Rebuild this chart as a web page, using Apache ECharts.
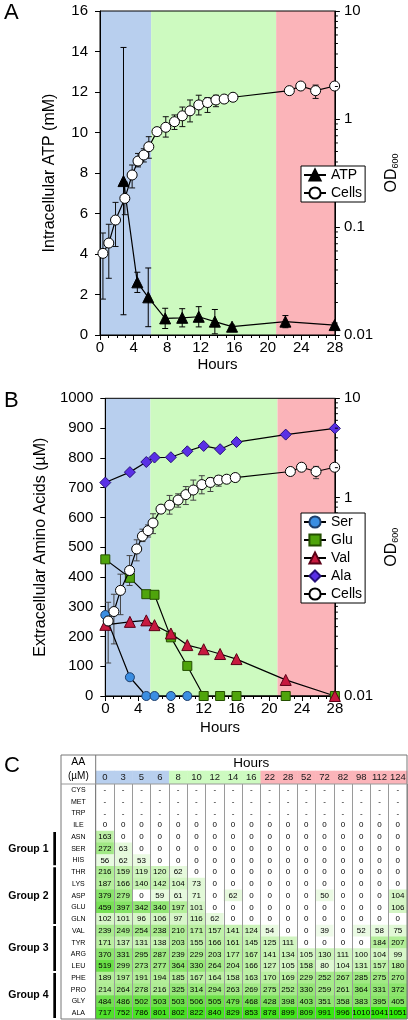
<!DOCTYPE html>
<html><head><meta charset="utf-8">
<script src="https://cdn.jsdelivr.net/npm/echarts@6/dist/echarts.min.js"></script>
<style>html,body{margin:0;padding:0;background:#fff}#c{width:408px;height:1020px}</style>
</head><body><div id="c"></div>
<script>
// ---------- Panel A data ----------
const atpHours = [2.8, 4.45, 5.75, 7.77, 9.8, 11.77, 13.69, 15.74, 22.1, 27.97];
const atpMM    = [7.6, 2.6, 1.86, 0.82, 0.85, 0.9, 0.66, 0.41, 0.66, 0.49];
const atpErr   = [6.6, 0.5, 1.45, 0.5, 0.45, 0.5, 0.6, 0.08, 0.3, 0.1];
const cellHours = [0.35,1.05,1.85,2.96,3.83,4.53,5.22,5.82,6.79,7.84,8.88,9.82,10.73,11.77,12.82,13.82,14.8,15.85,22.57,23.93,25.7,27.97];
const cellOD    = [0.057,0.071,0.116,0.184,0.303,0.408,0.464,0.554,0.764,0.838,0.944,1.07,1.19,1.35,1.42,1.50,1.53,1.59,1.83,2.02,1.83,2.02];
const cellODLow = [0.0215,0.0335,0.066,0.13,0.23,0.36,0.40,0.433,0.70,0.68,0.80,0.85,0.94,1.09,1.15,1.30,1.42,1.52,1.78,1.97,1.55,1.97];
const cellODHigh= [0.088,0.106,0.169,0.26,0.375,0.48,0.53,0.686,0.83,1.05,1.09,1.29,1.50,1.66,1.58,1.66,1.62,1.65,1.90,2.06,2.06,2.06];
// ---------- Panel B data ----------
const aaHours = [0,3,5,6,8,10,12,14,16,22,28];
const serUM = [272,63,0,0,0,0];
const gluUM = [459,397,342,340,197,101,0,0,0,0,0];
const valUM = [239,249,254,238,210,171,157,141,124,54,0];
const alaUM = [717,752,786,801,802,822,840,829,853,878,899];
// growth phases (hours)
const phasesA = [[0,6.1,0],[6.1,21,1],[21,28,2]];
const phasesB = [[0,5.5,0],[5.5,21,1],[21,28,2]];
const odMinorTicks = [0.02,0.03,0.04,0.05,0.06,0.07,0.08,0.09,0.2,0.3,0.4,0.5,0.6,0.7,0.8,0.9,2,3,4,5,6,7,8,9];
// ---------- Panel C table ----------
const tableHours = ['0','3','5','6','8','10','12','14','16','22','28','52','72','82','98','112','124'];
const tablePhase = [0,0,0,0,1,1,1,1,1,2,2,2,2,2,2,2,2];
const tableRows = ['CYS','MET','TRP','ILE','ASN','SER','HIS','THR','LYS','ASP','GLU','GLN','VAL','TYR','ARG','LEU','PHE','PRO','GLY','ALA'];
const D = '-';
const tableValues = [
 [D,D,D,D,D,D,D,D,D,D,D,D,D,D,D,D,D],
 [D,D,D,D,D,D,D,D,D,D,D,D,D,D,D,D,D],
 [D,D,D,D,D,D,D,D,D,D,D,D,D,D,D,D,D],
 [0,0,0,0,0,0,0,0,0,0,0,0,0,0,0,0,0],
 [163,0,0,0,0,0,0,0,0,0,0,0,0,0,0,0,0],
 [272,63,0,0,0,0,0,0,0,0,0,0,0,0,0,0,0],
 [56,62,53,0,0,0,0,0,0,0,0,0,0,0,0,0,0],
 [216,159,119,120,62,0,0,0,0,0,0,0,0,0,0,0,0],
 [187,166,140,142,104,73,0,0,0,0,0,0,0,0,0,0,0],
 [379,279,0,59,61,71,0,62,0,0,0,0,50,0,0,0,104],
 [459,397,342,340,197,101,0,0,0,0,0,0,0,0,0,0,106],
 [102,101,96,106,97,116,62,0,0,0,0,0,0,0,0,0,0],
 [239,249,254,238,210,171,157,141,124,54,0,0,39,0,52,58,75],
 [171,137,131,138,203,155,166,161,145,125,111,0,0,0,0,184,207],
 [370,331,295,287,239,229,203,177,167,141,134,105,130,111,100,104,99],
 [519,299,273,277,364,330,264,204,166,127,105,158,80,104,131,157,180],
 [189,197,191,194,185,167,164,158,163,170,169,229,252,267,285,275,270],
 [214,264,278,216,325,314,294,263,269,275,252,330,259,261,364,331,372],
 [484,486,502,503,503,506,505,479,468,428,398,403,351,358,383,395,405],
 [717,752,786,801,802,822,840,829,853,878,899,809,991,996,1010,1041,1051]
];
const groups = [['Group 1','ASN','HIS'],['Group 2','THR','GLN'],['Group 3','VAL','LEU'],['Group 4','PHE','ALA']];

// ---------- styling / layout ----------
const FONT = 'Liberation Sans, Arial, Helvetica, sans-serif';
const phaseColors = ['#b8cfee','#cdfac0','#fbb4b9'];
const gA = {left:100, top:11, width:268, height:324};
const gB = {left:105.3, top:398.3, width:260.4, height:297.7};
const T = {left:61, top:755, right:407, bottom:1019, aaRight:95.7, hoursBottom:770.7, headBottom:784};

const chart = echarts.init(document.getElementById('c'));

function hoursAxis(gi, gap){
  return {type:'value', gridIndex:gi, min:0, max:28, interval:4,
    axisLine:{lineStyle:{color:'#000',width:1}},
    axisTick:{length:5, lineStyle:{color:'#000'}},
    minorTick:{show:true, splitNumber:4, length:3, lineStyle:{color:'#000'}},
    splitLine:{show:false},
    axisLabel:{color:'#000', fontSize:15, fontFamily:FONT, margin:5},
    name:'Hours', nameLocation:'middle', nameGap:gap,
    nameTextStyle:{color:'#000', fontSize:15, fontFamily:FONT}};
}
function odAxis(gi){
  return {type:'log', logBase:10, gridIndex:gi, position:'right', min:0.01, max:10,
    axisLine:{show:true, onZero:false, lineStyle:{color:'#000'}},
    axisTick:{show:true, length:5, lineStyle:{color:'#000'}},
    splitLine:{show:false},
    axisLabel:{color:'#000', fontSize:15, fontFamily:FONT, margin:9, formatter:v=>String(+(+v).toPrecision(2))},
    name:'{a|OD}{b|600}', nameLocation:'middle', nameRotate:90, nameGap:22,
    nameTextStyle:{rich:{a:{fontSize:16,fontFamily:FONT,color:'#000'},b:{fontSize:9,fontFamily:FONT,color:'#000',verticalAlign:'bottom',padding:[7,0,0,0]}}}};
}
function leftAxis(gi, max, interval, name, gap){
  return {type:'value', gridIndex:gi, min:0, max:max, interval:interval,
    axisLine:{show:true, onZero:false, lineStyle:{color:'#000'}},
    axisTick:{show:true, length:5, lineStyle:{color:'#000'}},
    splitLine:{show:false},
    axisLabel:{color:'#000', fontSize:15, fontFamily:FONT, margin:12, formatter:v=>String(v)},
    name:name, nameLocation:'middle', nameGap:gap,
    nameTextStyle:{color:'#000', fontSize:16, fontFamily:FONT}};
}

function phaseSeries(xi, yi, phases, yMax){
  return {type:'custom', xAxisIndex:xi, yAxisIndex:yi, z:-1, silent:true,
    data:phases,
    renderItem:(p, api)=>{
      const a = api.coord([api.value(0), yMax]);
      const b = api.coord([api.value(1), 0]);
      return {type:'rect', shape:{x:a[0], y:a[1], width:b[0]-a[0], height:b[1]-a[1]},
        style:{fill:phaseColors[api.value(2)]}};
    }};
}
function errSeries(xi, yi, data, color){
  return {type:'custom', xAxisIndex:xi, yAxisIndex:yi, z:2, silent:true,
    encode:{x:0, y:[1,2]}, data:data,
    renderItem:(p, api)=>{
      const x = api.value(0);
      const p1 = api.coord([x, api.value(1)]), p2 = api.coord([x, api.value(2)]);
      const w = 3, st = {stroke:color, lineWidth:1};
      return {type:'group', children:[
        {type:'line', shape:{x1:p1[0],y1:p1[1],x2:p2[0],y2:p2[1]}, style:st},
        {type:'line', shape:{x1:p1[0]-w,y1:p1[1],x2:p1[0]+w,y2:p1[1]}, style:st},
        {type:'line', shape:{x1:p2[0]-w,y1:p2[1],x2:p2[0]+w,y2:p2[1]}, style:st}]};
    }};
}
function minorTickSeries(xi, yi){
  return {type:'custom', xAxisIndex:xi, yAxisIndex:yi, z:5, silent:true,
    data: odMinorTicks.map(v=>[28, v]),
    renderItem:(p, api)=>{
      const c = api.coord([api.value(0), api.value(1)]);
      return {type:'line', shape:{x1:c[0], y1:c[1], x2:c[0]+3, y2:c[1]}, style:{stroke:'#000', lineWidth:1}};
    }};
}
function lineSeries(name, xi, yi, xs, ys, symbol, size, fill, border, z){
  return {type:'line', name:name, xAxisIndex:xi, yAxisIndex:yi, z:z,
    data: ys.map((v,i)=>[xs[i], v]),
    symbol:symbol, symbolSize:size, showSymbol:true,
    lineStyle:{color:'#000', width:1.2},
    itemStyle:{color:fill, borderColor:border, borderWidth:1, opacity:1},
    emphasis:{disabled:true}, animation:false};
}

// table data
const heatData = [], dashData = [];
tableValues.forEach((row, r)=>row.forEach((v, c)=>{
  if (v === D) dashData.push([c, r]); else heatData.push([c, r, v]);
}));

const series = [
  phaseSeries(0, 0, phasesA, 16),
  errSeries(0, 0, atpHours.map((h,i)=>[h, Math.max(0, atpMM[i]-atpErr[i]), atpMM[i]+atpErr[i]]), '#000'),
  lineSeries('ATP', 0, 0, atpHours, atpMM, 'triangle', 11, '#000', '#000', 3),
  errSeries(0, 1, cellHours.map((h,i)=>[h, cellODLow[i], cellODHigh[i]]), '#111'),
  lineSeries('Cells', 0, 1, cellHours, cellOD, 'circle', 10, '#fff', '#000', 4),
  minorTickSeries(0, 1),

  phaseSeries(1, 2, phasesB, 1000),
  lineSeries('Ser', 1, 2, aaHours, serUM, 'circle', 9, '#3b8ee2', '#1d3d6a', 3),
  lineSeries('Glu', 1, 2, aaHours, gluUM, 'rect', 9, '#4fa40c', '#244f00', 3),
  lineSeries('Val', 1, 2, aaHours, valUM, 'triangle', 11, '#c7193f', '#5a0016', 3),
  lineSeries('Ala', 1, 2, aaHours, alaUM, 'diamond', 11, '#5a30e6', '#26107a', 3),
  errSeries(1, 3, cellHours.map((h,i)=>[h, cellODLow[i], cellODHigh[i]]), '#444'),
  lineSeries('Cells', 1, 3, cellHours, cellOD, 'circle', 10, '#fff', '#000', 4),
  minorTickSeries(1, 3),

  {type:'custom', xAxisIndex:2, yAxisIndex:4, silent:true,
    data: tableHours.map((h,i)=>[i, 0, tablePhase[i]]),
    renderItem:(p, api)=>{
      const c = api.coord([api.value(0), 0]); const s = api.size([1, 1]);
      return {type:'group', children:[
        {type:'rect', shape:{x:c[0]-s[0]/2, y:c[1]-s[1]/2, width:s[0]+0.5, height:s[1]}, style:{fill:phaseColors[api.value(2)]}},
        {type:'text', x:c[0], y:c[1]+0.5, style:{text:tableHours[p.dataIndex], fill:'#1a1a1a', font:'9.5px '+FONT, align:'center', verticalAlign:'middle'}}]};
    }},
  {type:'heatmap', xAxisIndex:3, yAxisIndex:5, z:-1, data:heatData,
    label:{show:true, fontSize:8, fontFamily:FONT, color:'#000', formatter:p=>String(p.value[2])},
    itemStyle:{borderWidth:0}, emphasis:{disabled:true}},
  {type:'custom', xAxisIndex:3, yAxisIndex:5, silent:true, data:dashData,
    renderItem:(p, api)=>{
      const c = api.coord([api.value(0), api.value(1)]);
      return {type:'text', x:c[0], y:c[1], style:{text:'-', fill:'#000', font:'8px '+FONT, align:'center', verticalAlign:'middle'}};
    }}
];
const heatIndex = series.findIndex(s=>s.type==='heatmap');

const legendBase = {orient:'vertical', backgroundColor:'#fff', borderColor:'#000', borderWidth:1,
  itemWidth:22, itemHeight:14, itemGap:4, padding:[2,3,2,2], z:20,
  textStyle:{color:'#000', fontSize:14, fontFamily:FONT}, selectedMode:false};

const option = {
  animation:false,
  textStyle:{fontFamily:FONT},
  grid:[
    Object.assign({show:true, borderColor:'#000', borderWidth:1}, gA),
    Object.assign({show:true, borderColor:'#000', borderWidth:1}, gB),
    {left:T.aaRight, top:T.hoursBottom, width:T.right-T.aaRight, height:T.headBottom-T.hoursBottom},
    {left:T.aaRight, top:T.headBottom, width:T.right-T.aaRight, height:T.bottom-T.headBottom}
  ],
  xAxis:[
    hoursAxis(0, 22), hoursAxis(1, 24),
    {type:'category', gridIndex:2, data:tableHours, show:false},
    {type:'category', gridIndex:3, data:tableHours, axisLine:{show:false}, axisTick:{show:false},
      axisLabel:{show:false, interval:0}, splitLine:{show:true, interval:0, lineStyle:{color:'#9a9a9a', width:1}}}
  ],
  yAxis:[
    leftAxis(0, 16, 2, 'Intracellular ATP (mM)', 42),
    odAxis(0),
    leftAxis(1, 1000, 100, 'Extracellular Amino Acids (µM)', 43),
    odAxis(1),
    {type:'category', gridIndex:2, data:['h'], show:false},
    {type:'category', gridIndex:3, data:tableRows, inverse:true, axisLine:{show:false}, axisTick:{show:false},
      axisLabel:{interval:0, fontSize:7, fontFamily:FONT, color:'#000', align:'center', margin:17.3}, splitLine:{show:false}}
  ],
  visualMap:{type:'continuous', show:false, seriesIndex:heatIndex, min:0, max:1051, dimension:2,
    inRange:{color:['#ffffff','#b8ef9f','#90e572','#68df44','#50e02c','#42e41c','#30ea08']}},
  legend:[
    Object.assign({}, legendBase, {left:301, top:166, data:['ATP','Cells']}),
    Object.assign({}, legendBase, {left:301, top:513, data:['Ser','Glu','Val','Ala','Cells']})
  ],
  series: series
};
chart.setOption(option);

// annotations of the table and panel letters
const rowPix = name => chart.convertToPixel({yAxisIndex:5}, name);
const rowH = (T.bottom - T.headBottom) / tableRows.length;
const gfx = [
  {type:'text', x:4, y:2, style:{text:'A', font:'22px '+FONT, fill:'#000'}},
  {type:'text', x:4, y:390, style:{text:'B', font:'22px '+FONT, fill:'#000'}},
  {type:'text', x:4, y:755, style:{text:'C', font:'22px '+FONT, fill:'#000'}},
  {type:'rect', shape:{x:T.left, y:T.top, width:T.right-T.left, height:T.bottom-T.top}, style:{fill:null, stroke:'#777', lineWidth:1}, z:10},
  {type:'line', shape:{x1:T.aaRight, y1:T.top, x2:T.aaRight, y2:T.bottom}, style:{stroke:'#777', lineWidth:1}, z:10},
  {type:'line', shape:{x1:T.left, y1:T.headBottom, x2:T.right, y2:T.headBottom}, style:{stroke:'#999', lineWidth:1}, z:10},
  {type:'text', x:(T.aaRight+T.right)/2, y:763, style:{text:'Hours', font:'13.5px '+FONT, fill:'#000', align:'center', verticalAlign:'middle'}},
  {type:'text', x:(T.left+T.aaRight)/2, y:762, style:{text:'AA', font:'10.5px '+FONT, fill:'#000', align:'center', verticalAlign:'middle'}},
  {type:'text', x:(T.left+T.aaRight)/2, y:776.5, style:{text:'(µM)', font:'10px '+FONT, fill:'#000', align:'center', verticalAlign:'middle'}}
];
groups.forEach(g=>{
  const y1 = rowPix(g[1]) - rowH/2 + 1, y2 = rowPix(g[2]) + rowH/2 - 1;
  gfx.push({type:'rect', shape:{x:53.3, y:y1, width:2.7, height:y2-y1}, style:{fill:'#000'}});
  gfx.push({type:'text', x:48.5, y:(y1+y2)/2, style:{text:g[0], font:'bold 10.5px '+FONT, fill:'#000', align:'right', verticalAlign:'middle'}});
});
chart.setOption({graphic:gfx});
</script></body></html>
